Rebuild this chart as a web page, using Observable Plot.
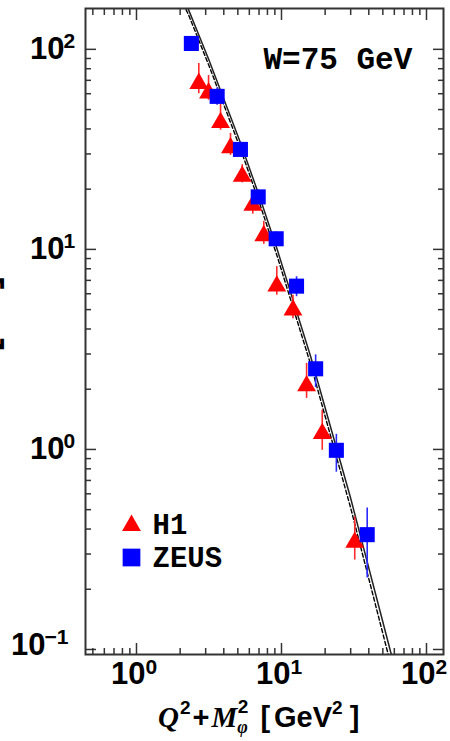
<!DOCTYPE html>
<html>
<head>
<meta charset="utf-8">
<script src="https://cdn.jsdelivr.net/npm/d3@7"></script>
<script src="https://cdn.jsdelivr.net/npm/@observablehq/plot@0.6"></script>
<style>
  body { margin: 0; background: #fff; }
  svg { display: block; }
</style>
</head>
<body>
<div id="chart"></div>
<script>
// H1 measurements: Q^2 + M_phi^2 [GeV^2], cross section and error range
const h1Q     = [2.69, 3.14, 3.80, 4.45, 5.36, 6.34, 7.55, 9.28, 12.0, 14.9, 19.1, 32.0];
const h1Sigma = [67.5, 60.5, 43.0, 32.2, 23.2, 16.6, 11.7, 6.55, 4.97, 2.08, 1.20, 0.343];
const h1Lo    = [60.0, 55.7, 39.4, 29.5, 21.5, 15.0, 10.6, 5.90, 4.50, 1.80, 0.99, 0.280];
const h1Hi    = [85.0, 74.0, 53.7, 38.0, 26.5, 19.0, 13.8, 8.20, 5.90, 2.69, 1.57, 0.460];

// ZEUS measurements
const zeusQ     = [2.39, 3.60, 5.21, 6.91, 9.19, 12.7, 17.2, 23.9, 39.0];
const zeusSigma = [107, 58.2, 31.6, 18.3, 11.3, 6.55, 2.53, 0.99, 0.375];
const zeusLo    = [100, 52.5, 29.0, 16.8, 10.4, 5.80, 2.04, 0.77, 0.228];
const zeusHi    = [114, 64.0, 34.5, 19.8, 12.2, 7.30, 2.97, 1.19, 0.510];

// Model predictions (solid and dashed curves)
const modelQ      = [2.10, 2.284, 3.16, 5.21, 7.08, 9.38, 15.85, 29.9, 56.5, 60.0];
const modelSolid  = [180, 158, 88.5, 34.1, 18.2, 9.89, 2.93, 0.575, 0.0977, 0.0845];
const modelDashed = [169, 149, 83.0, 31.9, 16.9, 9.15, 2.68, 0.515, 0.0850, 0.0735];

// Axis ticks and labels
const xMajor = [1, 10, 100];
const xExp   = ["0", "1", "2"];
const yMajor = [0.1, 1, 10, 100];
const yExp   = ["\u22121", "0", "1", "2"];
const energyLabel = "W=75 GeV";
const legendNames = ["H1", "ZEUS"];

const h1 = h1Q.map((q, i) => ({q, sigma: h1Sigma[i], lo: h1Lo[i], hi: h1Hi[i]}));
const zeus = zeusQ.map((q, i) => ({q, sigma: zeusSigma[i], lo: zeusLo[i], hi: zeusHi[i]}));
const model = modelQ.map((q, i) => ({q, solid: modelSolid[i], dashed: modelDashed[i]}));
const yTicks = yMajor.map((v, i) => ({v, exp: yExp[i]}));

const minorsIn = (lo, hi) => {
  const out = [];
  for (let e = Math.floor(Math.log10(lo)); e <= Math.ceil(Math.log10(hi)); e++)
    for (let m = 2; m <= 9; m++) {
      const v = m * 10 ** e;
      if (v > lo && v < hi) out.push(v);
    }
  return out;
};
const xDomain = [0.445, 131];
const yDomain = [0.0944, 160];
const xMinor = minorsIn(...xDomain);
const yMinor = minorsIn(...yDomain);

const axisColor = "#333";
const sans = "Liberation Sans, Arial, sans-serif";
const mono = "Liberation Mono, Courier New, monospace";
const tk = {stroke: axisColor, strokeWidth: 1.5, text: null, label: null, grid: false};
const big = {fontSize: 31, fontWeight: "bold", fontFamily: sans, fill: "#000", lineAnchor: "middle"};
const sup = {fontSize: 21, fontWeight: "bold", fontFamily: sans, fill: "#000", lineAnchor: "middle"};

const chart = Plot.plot({
  width: 450,
  height: 741,
  marginLeft: 85,
  marginRight: 7,
  marginTop: 8,
  marginBottom: 87,
  x: {type: "log", domain: xDomain},
  y: {type: "log", domain: yDomain},
  marks: [
    // model curves
    Plot.line(model, {x: "q", y: "dashed", stroke: "#000", strokeWidth: 1.4, strokeDasharray: "4,2.5", clip: true}),
    Plot.line(model, {x: "q", y: "solid", stroke: "#222", strokeWidth: 1.5, clip: true}),

    // error bars
    Plot.ruleX(h1, {x: "q", y1: "lo", y2: "hi", stroke: "#ff2a2a", strokeWidth: 1.6}),
    Plot.ruleX(zeus, {x: "q", y1: "lo", y2: "hi", stroke: "#2a2aff", strokeWidth: 1.6}),

    // data points
    Plot.dot(h1, {x: "q", y: "sigma", symbol: "triangle", fill: "#ff0000", r: 7}),
    Plot.dot(zeus, {x: "q", y: "sigma", symbol: "square", fill: "#0000ff", r: 8.5}),

    // inward ticks on all four sides
    Plot.axisX(xMajor, {...tk, anchor: "bottom", tickSize: 11, dy: -11}),
    Plot.axisX(xMinor, {...tk, anchor: "bottom", tickSize: 6, dy: -6}),
    Plot.axisX(xMajor, {...tk, anchor: "top", tickSize: 11, dy: 11}),
    Plot.axisX(xMinor, {...tk, anchor: "top", tickSize: 6, dy: 6}),
    Plot.axisY(yMajor, {...tk, anchor: "left", tickSize: 11, dx: 11}),
    Plot.axisY(yMinor, {...tk, anchor: "left", tickSize: 6, dx: 6}),
    Plot.axisY(yMajor, {...tk, anchor: "right", tickSize: 11, dx: -11}),
    Plot.axisY(yMinor, {...tk, anchor: "right", tickSize: 6, dx: -6}),
    Plot.frame({stroke: axisColor, strokeWidth: 2}),

    // x tick labels: 10 with exponent
    Plot.text(xMajor, {...big, x: d => d, frameAnchor: "bottom", text: () => "10", textAnchor: "end", dx: 9, dy: 20}),
    Plot.text(xMajor, {...sup, x: d => d, frameAnchor: "bottom", text: (d, i) => xExp[i], textAnchor: "start", dx: 9, dy: 13}),

    // y tick labels
    Plot.text(yTicks.filter(d => d.v >= 1), {...big, y: "v", frameAnchor: "left", text: () => "10", textAnchor: "end", dx: -21}),
    Plot.text(yTicks.filter(d => d.v >= 1), {...sup, y: "v", frameAnchor: "left", text: "exp", textAnchor: "start", dx: -22, dy: -8}),
    Plot.text(yTicks.filter(d => d.v < 1), {...big, y: "v", frameAnchor: "left", text: () => "10", textAnchor: "end", dx: -40, dy: -4}),
    Plot.text(yTicks.filter(d => d.v < 1), {...sup, y: "v", frameAnchor: "left", text: "exp", textAnchor: "start", dx: -41, dy: -12}),

    // energy label
    Plot.text([energyLabel], {frameAnchor: "top-left", dx: 178, dy: 51, textAnchor: "start", lineAnchor: "middle",
      fontSize: 31, fontWeight: "bold", fontFamily: mono, fill: "#000"}),

    // legend
    Plot.dot(["H1"], {x: null, y: null, frameAnchor: "top-left", dx: 46, dy: 517, symbol: "triangle", fill: "#ff0000", r: 7}),
    Plot.dot(["ZEUS"], {x: null, y: null, frameAnchor: "top-left", dx: 46, dy: 549, symbol: "square", fill: "#0000ff", r: 10}),
    Plot.text([legendNames[0]], {frameAnchor: "top-left", dx: 67, dy: 516, textAnchor: "start", lineAnchor: "middle",
      fontSize: 29, fontWeight: "bold", fontFamily: mono, fill: "#000"}),
    Plot.text([legendNames[1]], {frameAnchor: "top-left", dx: 67, dy: 549, textAnchor: "start", lineAnchor: "middle",
      fontSize: 29, fontWeight: "bold", fontFamily: mono, fill: "#000"})
  ]
});

document.getElementById("chart").appendChild(chart);

// axis titles with sub- and superscripts
const svg = d3.select(chart);
const serif = "Liberation Serif, serif";
const xt = svg.append("text")
  .attr("x", 158).attr("y", 727)
  .attr("text-anchor", "start")
  .attr("font-size", 29).attr("font-weight", "bold").attr("fill", "#000")
  .attr("font-family", sans);
xt.append("tspan").attr("font-family", serif).attr("font-style", "italic").text("Q");
xt.append("tspan").attr("font-size", 19).attr("dy", -13).attr("dx", 1).text("2");
xt.append("tspan").attr("dy", 13).attr("dx", 2).text("+");
xt.append("tspan").attr("font-family", serif).attr("font-style", "italic").attr("dx", 2).text("M");
xt.append("tspan").attr("font-size", 18).attr("font-family", serif).attr("font-style", "italic").attr("dy", 6).attr("dx", 0).text("\u03c6");
xt.append("tspan").attr("font-size", 19).attr("dy", -20).attr("dx", -10).text("2");
xt.append("tspan").attr("dy", 14).attr("dx", 12).text("[");
xt.append("tspan").attr("dx", 4).text("GeV");
xt.append("tspan").attr("font-size", 19).attr("dy", -13).text("2");
xt.append("tspan").attr("dy", 13).attr("dx", 7).text("]");

svg.append("text")
  .attr("transform", "translate(-4,276) rotate(-90)")
  .attr("text-anchor", "end")
  .attr("font-size", 40).attr("font-weight", "bold").attr("font-family", sans).attr("fill", "#000")
  .text("\u03c3 [nb]");
</script>
</body>
</html>
